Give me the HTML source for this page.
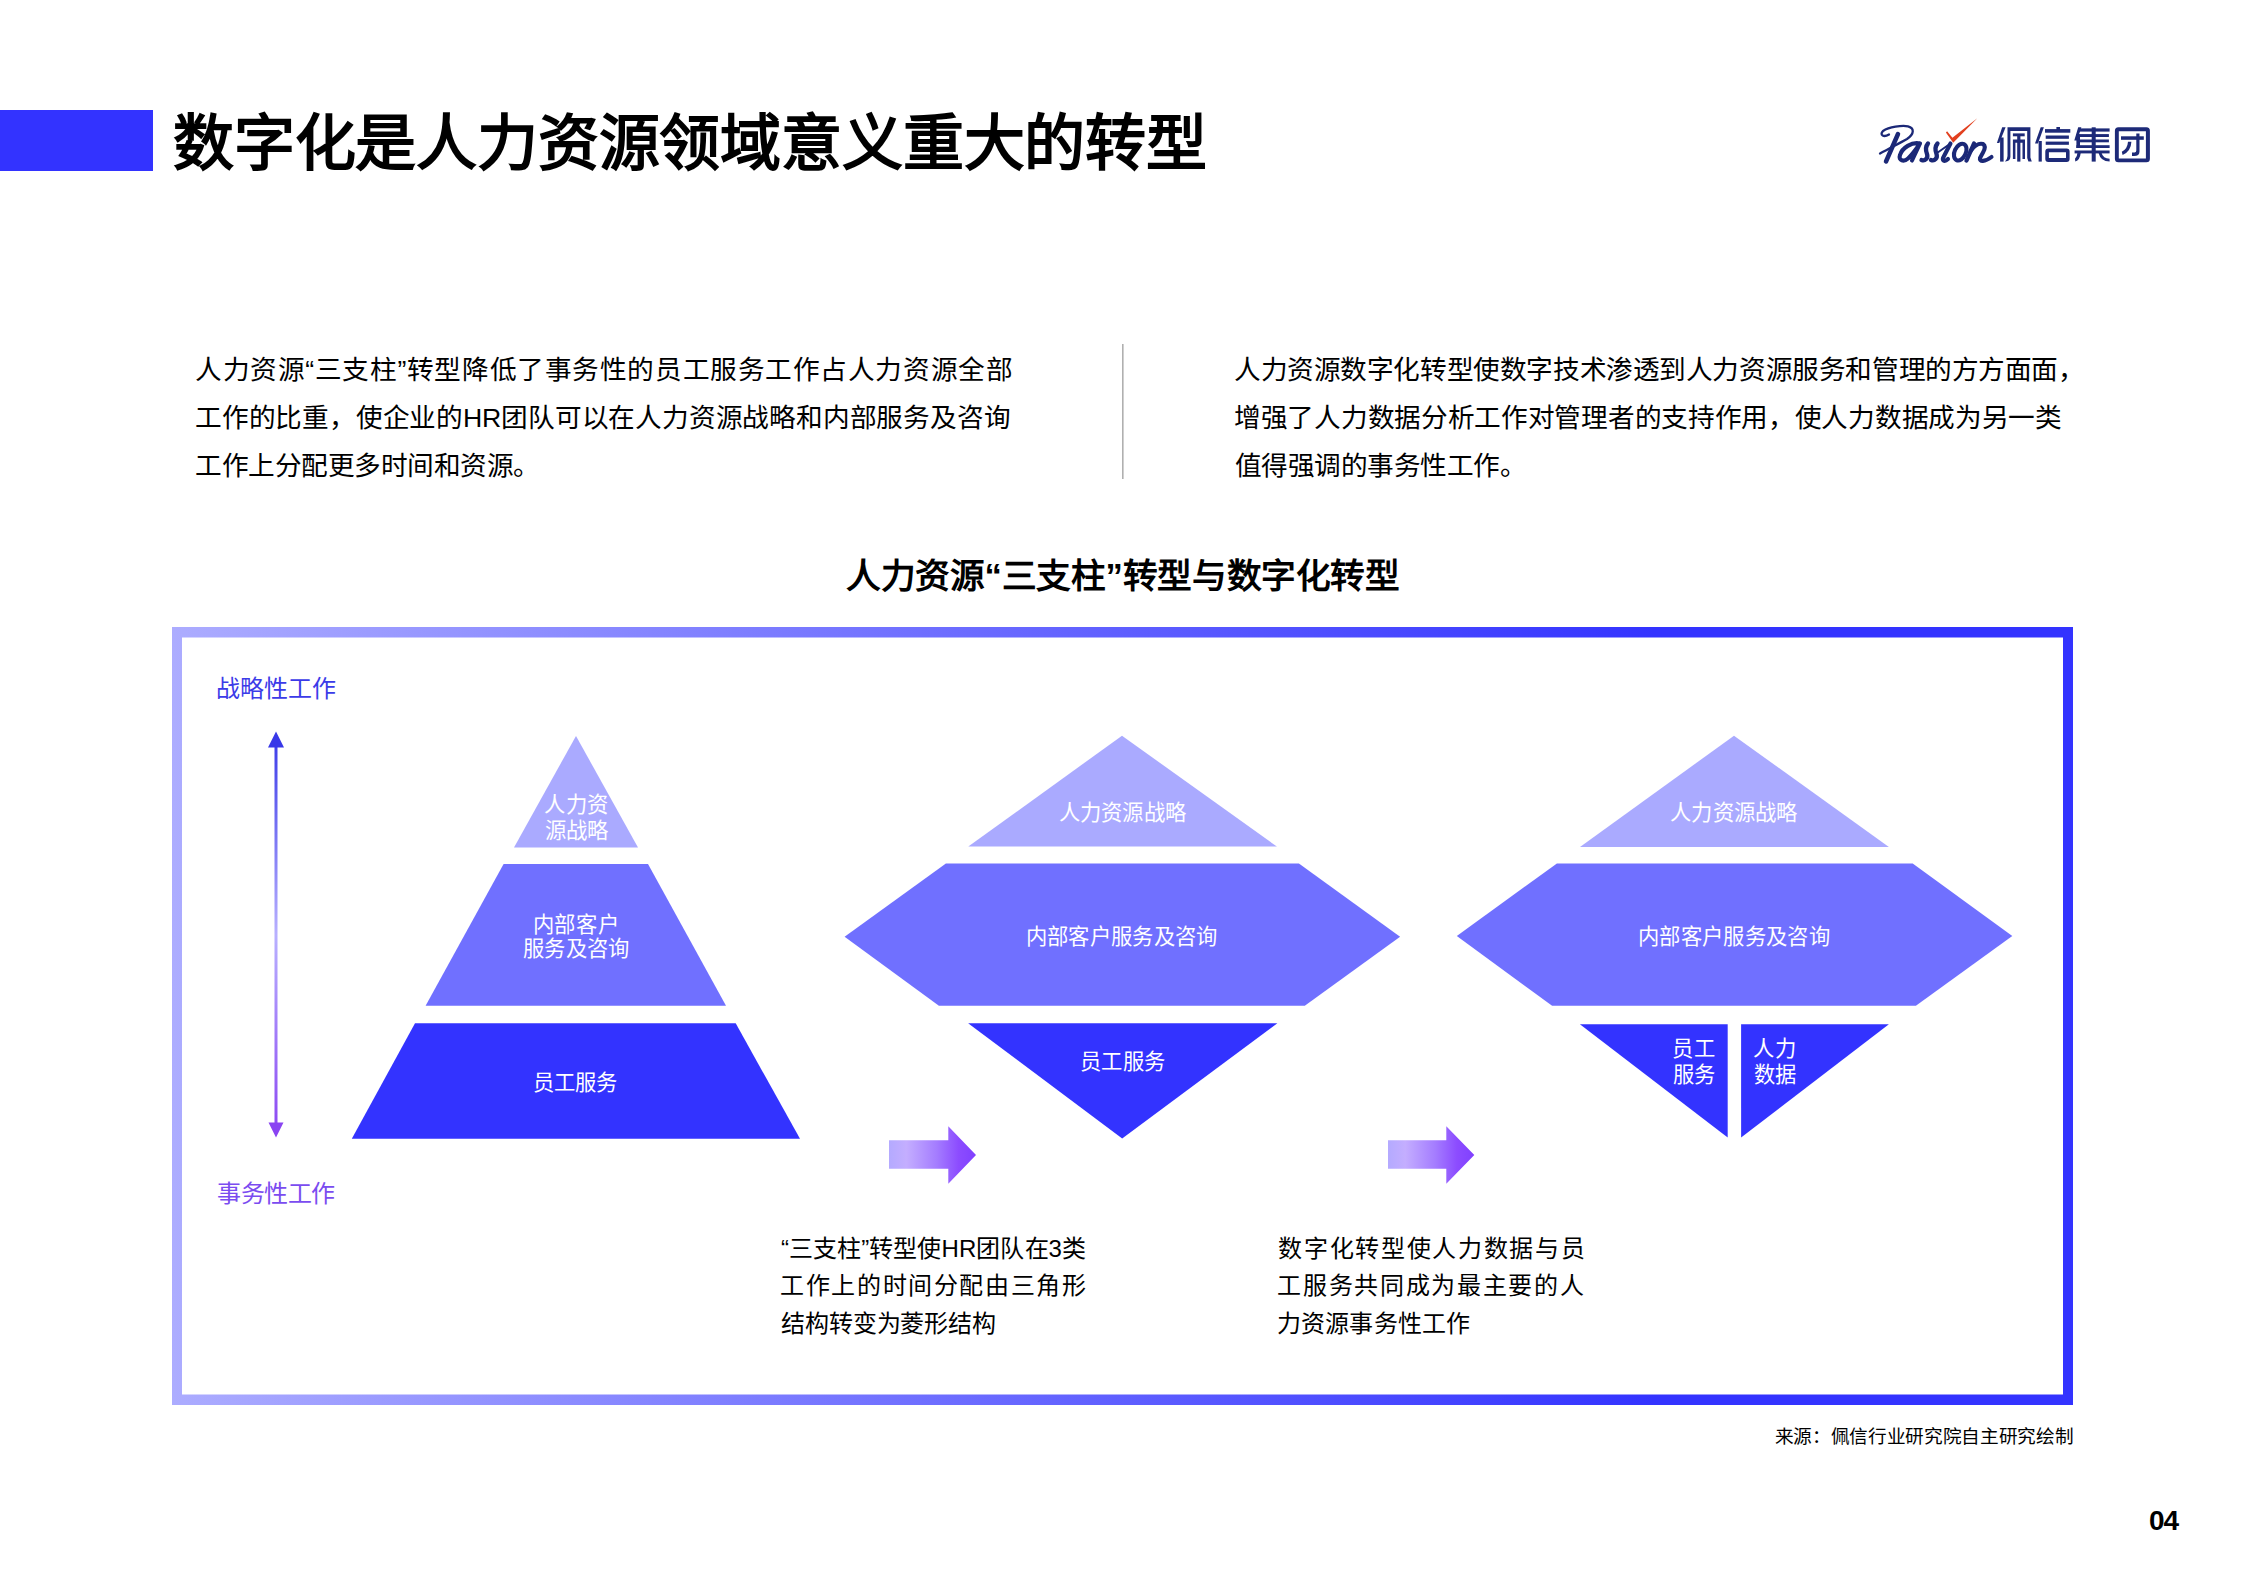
<!DOCTYPE html>
<html lang="zh-CN"><head><meta charset="utf-8"><title>数字化是人力资源领域意义重大的转型</title>
<style>
html,body{margin:0;padding:0;background:#fff;}
body{width:2244px;height:1587px;position:relative;overflow:hidden;font-family:"Liberation Sans",sans-serif;}
.t div, div.t > div{position:absolute;white-space:nowrap;}
</style></head><body>
<svg width="2244" height="1587" viewBox="0 0 2244 1587" style="position:absolute;left:0;top:0">
<defs>
 <linearGradient id="gFrame" x1="0" y1="0" x2="1" y2="0"><stop offset="0" stop-color="#ACACFF"/><stop offset="0.78" stop-color="#3333FF"/><stop offset="1" stop-color="#3333FF"/></linearGradient>
 <linearGradient id="gV" gradientUnits="userSpaceOnUse" x1="0" y1="732" x2="0" y2="1138"><stop offset="0" stop-color="#3838E8"/><stop offset="0.5" stop-color="#B8B0FF"/><stop offset="1" stop-color="#8A44F2"/></linearGradient>
 <linearGradient id="gA" x1="0" y1="0" x2="1" y2="0"><stop offset="0" stop-color="#B4AAFF"/><stop offset="0.2" stop-color="#C4AEFF"/><stop offset="0.55" stop-color="#A47CFF"/><stop offset="0.8" stop-color="#8C4CFF"/><stop offset="1" stop-color="#8040FF"/></linearGradient>
</defs>
<rect x="0" y="110" width="153" height="61" fill="#3333FF"/>
<rect x="1122" y="344" width="1.6" height="135" fill="#B0B0B0"/>
<path fill="url(#gFrame)" fill-rule="evenodd" d="M172,627 H2073 V1405 H172 Z M182,637.5 V1394.5 H2063 V637.5 Z"/>
<!-- vertical arrow -->
<rect x="274.5" y="745" width="3" height="380" fill="url(#gV)"/>
<polygon points="276,731.5 268,747.5 284,747.5" fill="#3838E8"/>
<polygon points="276,1137.5 268.5,1122.5 283.5,1122.5" fill="#8A44F2"/>
<!-- pyramid -->
<polygon points="576,736 514,847.4 638,847.4" fill="#AAAAFF"/>
<polygon points="503.6,864 648,864 726,1005.7 425.6,1005.7" fill="#7070FF"/>
<polygon points="415,1023.3 735.7,1023.3 800,1138.8 351.8,1138.8" fill="#3333FF"/>
<!-- diamond 2 -->
<polygon points="1122,735.7 968.3,846.6 1276.9,846.6" fill="#AAAAFF"/>
<polygon points="945.9,863.4 1298.9,863.4 1400.1,936.8 1304.8,1005.8 938.9,1005.8 844.6,936.8" fill="#7070FF"/>
<polygon points="968.1,1023.2 1277.4,1023.2 1122.2,1138.4" fill="#3333FF"/>
<!-- diamond 3 -->
<polygon points="1734,735.7 1580,847 1888.9,847" fill="#AAAAFF"/>
<polygon points="1556.9,863.4 1912.7,863.4 2012.3,935.9 1915.9,1005.8 1552.1,1005.8 1456.8,935.9" fill="#7070FF"/>
<polygon points="1579.9,1024.2 1727.7,1024.2 1727.7,1137.6" fill="#3333FF"/>
<polygon points="1741.1,1024.2 1888.9,1024.2 1741.1,1137.6" fill="#3333FF"/>
<!-- arrows -->
<g fill="url(#gA)">
<path d="M889,1140.2 H948.3 V1126.3 L976,1155 L948.3,1183.8 V1168.7 H889 Z"/>
<path d="M1388,1140.2 H1446.3 V1126.3 L1474.3,1155 L1446.3,1183.8 V1168.7 H1388 Z"/>
</g>
<!-- logo -->
<g fill="none" stroke="#1B2877" stroke-linecap="round" stroke-linejoin="round">
 <path d="M1898,134 L1886,161.5" stroke-width="4.5"/>
 <path d="M1889,134.5 C1884,137.5 1879,135.5 1883,131 C1889,127 1902,125 1908,126.3 C1914.5,128 1914.5,134 1907,139 C1900,143 1890,148 1880,153.5" stroke-width="2.3"/>
 <path d="M1920,143.5 C1912,141.5 1902,148 1900,155 C1898,161 1904,162 1908,158.5 C1912,155 1917,148 1920,143.5 L1912,160.5" stroke-width="4.1"/>
 <path d="M1921.5,160 C1925,161.5 1928.5,158 1927,154 C1925.5,150 1925,147 1928,143.5" stroke-width="4.3"/>
 <path d="M1931,160 C1934.5,161.5 1938,158 1936.5,154 C1935,150 1934.5,147 1937.5,143.5" stroke-width="4.3"/>
 <path d="M1937,153 L1950.5,143.5" stroke-width="2.0"/>
 <path d="M1950.5,143.5 L1943,158 C1942,161 1945,162 1948,159" stroke-width="4.1"/>
 <ellipse cx="1960.3" cy="152.2" rx="5.6" ry="8.8" transform="rotate(25 1960.5 152)" stroke-width="4.1"/>
 <path d="M1966.5,160.5 L1974,143.5" stroke-width="4.3"/>
 <path d="M1971,150.5 C1975,145 1979,143 1983,144 C1986,146 1985,149 1983,152.5 L1980,158 C1979,162 1985,162 1991.5,157" stroke-width="4.1"/>
</g>
<g fill="#1D2A78">
 <!-- 佩 -->
 <polygon points="2002.2,127.3 2005.6,127.3 1999.3,143 1996.9,143"/>
 <rect x="2000.1" y="137.5" width="3.5" height="24.1"/>
 <path d="M2007.5,127.3 H2030.4 V157.6 L2031.8,161.6 H2028.4 L2027.2,158 V130.9 H2010.4 V157 Q2010.2,161 2005.4,161.6 H2005 Q2007.5,159 2007.5,156 Z"/>
 <rect x="2012.9" y="133.4" width="11.8" height="2.9"/>
 <path d="M2012.9,139.5 H2025 V159 H2022.5 V142.7 H2015.4 V159 H2012.9 Z"/>
 <rect x="2017.2" y="136" width="3.2" height="25.6"/>
 <!-- 信 -->
 <polygon points="2040.7,127.3 2043.9,127.3 2037.9,143.4 2035,143.4"/>
 <rect x="2038.6" y="141" width="3.2" height="20.6"/>
 <rect x="2056.4" y="127" width="3.6" height="3"/>
 <rect x="2045" y="129.1" width="25.3" height="3.6"/>
 <rect x="2045.7" y="135.5" width="23.2" height="3.3"/>
 <rect x="2045.7" y="141.6" width="23.2" height="3.2"/>
 <path fill-rule="evenodd" d="M2048.3,148.4 H2066.6 Q2069.6,148.4 2069.6,151.4 V158.9 Q2069.6,161.9 2066.6,161.9 H2048.3 Q2045.3,161.9 2045.3,158.9 V151.4 Q2045.3,148.4 2048.3,148.4 Z M2048.9,152.3 V158 H2066 V152.3 Z"/>
 <!-- 集 -->
 <polygon points="2078.2,127.3 2081.4,127.3 2077.1,140.5 2074.3,140.5"/>
 <rect x="2076.4" y="134.5" width="3.6" height="13.5"/>
 <rect x="2078.2" y="128.4" width="31.4" height="3.2"/>
 <rect x="2077.1" y="134.1" width="31.8" height="2.9"/>
 <rect x="2077.1" y="139.5" width="31.8" height="2.8"/>
 <rect x="2076.4" y="145.2" width="33.2" height="2.8"/>
 <rect x="2091.7" y="127.3" width="4" height="34.3"/>
 <rect x="2074.6" y="150.5" width="35" height="2.9"/>
 <path d="M2080.7,153 Q2080,160 2075.3,161.6 L2075,158.8 Q2077.2,157 2077.4,153 Z"/>
 <path d="M2101.6,153 Q2103,158.5 2109.6,158.8 V161.6 Q2100.5,161.4 2098.6,153 Z"/>
 <!-- 团 -->
 <path fill-rule="evenodd" d="M2118.4,127.3 H2146.4 Q2149.9,127.3 2149.9,130.8 V158.8 Q2149.9,162.3 2146.4,162.3 H2118.4 Q2114.9,162.3 2114.9,158.8 V130.8 Q2114.9,127.3 2118.4,127.3 Z M2118.8,131.3 V158.4 H2145.9 V131.3 Z"/>
 <rect x="2121" y="136.3" width="22.8" height="3.5"/>
 <path d="M2136.3,133.4 H2139.5 V151.5 Q2139.5,156 2134,156 H2132 V152.6 H2134.5 Q2136.3,152.6 2136.3,150.5 Z"/>
 <path d="M2128,141.8 H2131.4 Q2131,151.5 2122.6,155 L2121.8,151.8 Q2127.5,149 2128,141.8 Z"/>
</g>
<polygon points="1945.9,132.4 1947.1,131.2 1952.4,137.8 1977.3,118.3 1953.2,142.8" fill="#E2401F"/>
</svg>
<div class="t">
<div style="left:173.0px;top:113.5px;font-size:61px;line-height:61px;font-weight:900;color:#000;letter-spacing:-0.188px;">数字化是人力资源领域意义重大的转型</div>
<div style="left:195.0px;top:356.5px;font-size:26.67px;line-height:26.67px;font-weight:400;color:#000;letter-spacing:0.567px;">人力资源“三支柱”转型降低了事务性的员工服务工作占人力资源全部</div>
<div style="left:195.0px;top:404.5px;font-size:26.67px;line-height:26.67px;font-weight:400;color:#000;letter-spacing:-0.2px;">工作的比重，使企业的HR团队可以在人力资源战略和内部服务及咨询</div>
<div style="left:195.0px;top:452.5px;font-size:26.67px;line-height:26.67px;font-weight:400;color:#000;letter-spacing:-0.5px;">工作上分配更多时间和资源。</div>
<div style="left:1234.0px;top:356.5px;font-size:26.67px;line-height:26.67px;font-weight:400;color:#000;letter-spacing:-0.419px;">人力资源数字化转型使数字技术渗透到人力资源服务和管理的方方面面，</div>
<div style="left:1234.0px;top:404.5px;font-size:26.67px;line-height:26.67px;font-weight:400;color:#000;letter-spacing:-0.3px;">增强了人力数据分析工作对管理者的支持作用，使人力数据成为另一类</div>
<div style="left:1235.0px;top:452.5px;font-size:26.67px;line-height:26.67px;font-weight:400;color:#000;letter-spacing:-0.55px;">值得强调的事务性工作。</div>
<div style="left:846.0px;top:558.5px;font-size:34.67px;line-height:34.67px;font-weight:900;color:#000;letter-spacing:-0.344px;">人力资源“三支柱”转型与数字化转型</div>
<div style="left:216.0px;top:676.5px;font-size:24px;line-height:24px;font-weight:400;color:#3B3BE8;letter-spacing:0.0px;">战略性工作</div>
<div style="left:217.0px;top:1181.5px;font-size:24px;line-height:24px;font-weight:400;color:#7B4CF0;letter-spacing:-0.5px;">事务性工作</div>
<div style="left:544.0px;top:794.75px;font-size:21.33px;line-height:21.33px;font-weight:300;color:#fff;letter-spacing:0.5px;">人力资</div>
<div style="left:545.0px;top:820.75px;font-size:21.33px;line-height:21.33px;font-weight:300;color:#fff;letter-spacing:0.0px;">源战略</div>
<div style="left:532.6px;top:914.5px;font-size:21.33px;line-height:21.33px;font-weight:300;color:#fff;letter-spacing:0.733px;">内部客户</div>
<div style="left:523.0px;top:939.0px;font-size:21.33px;line-height:21.33px;font-weight:300;color:#fff;letter-spacing:0.25px;">服务及咨询</div>
<div style="left:532.6px;top:1072.55px;font-size:21.33px;line-height:21.33px;font-weight:300;color:#fff;letter-spacing:0.067px;">员工服务</div>
<div style="left:1058.7px;top:803.0px;font-size:21.33px;line-height:21.33px;font-weight:300;color:#fff;letter-spacing:0.22px;">人力资源战略</div>
<div style="left:1025.7px;top:927.25px;font-size:21.33px;line-height:21.33px;font-weight:300;color:#fff;letter-spacing:0.312px;">内部客户服务及咨询</div>
<div style="left:1080.0px;top:1052.1px;font-size:21.33px;line-height:21.33px;font-weight:300;color:#fff;letter-spacing:0.367px;">员工服务</div>
<div style="left:1670.0px;top:803.0px;font-size:21.33px;line-height:21.33px;font-weight:300;color:#fff;letter-spacing:0.3px;">人力资源战略</div>
<div style="left:1638.2px;top:927.25px;font-size:21.33px;line-height:21.33px;font-weight:300;color:#fff;letter-spacing:0.312px;">内部客户服务及咨询</div>
<div style="left:1672.25px;top:1038.5px;font-size:21.33px;line-height:21.33px;font-weight:300;color:#fff;letter-spacing:0.3px;">员工</div>
<div style="left:1672.75px;top:1064.75px;font-size:21.33px;line-height:21.33px;font-weight:300;color:#fff;letter-spacing:0.3px;">服务</div>
<div style="left:1753.3px;top:1039.0px;font-size:21.33px;line-height:21.33px;font-weight:300;color:#fff;letter-spacing:0.3px;">人力</div>
<div style="left:1754.1px;top:1064.75px;font-size:21.33px;line-height:21.33px;font-weight:300;color:#fff;letter-spacing:0.3px;">数据</div>
<div style="left:781.0px;top:1237.15px;font-size:24px;line-height:24px;font-weight:400;color:#000;letter-spacing:0.071px;">“三支柱”转型使HR团队在3类</div>
<div style="left:780.0px;top:1274.3px;font-size:24px;line-height:24px;font-weight:400;color:#000;letter-spacing:1.636px;">工作上的时间分配由三角形</div>
<div style="left:781.0px;top:1311.8px;font-size:24px;line-height:24px;font-weight:400;color:#000;letter-spacing:-0.125px;">结构转变为菱形结构</div>
<div style="left:1278.2px;top:1236.8px;font-size:24px;line-height:24px;font-weight:400;color:#000;letter-spacing:1.691px;">数字化转型使人力数据与员</div>
<div style="left:1277.2px;top:1273.95px;font-size:24px;line-height:24px;font-weight:400;color:#000;letter-spacing:1.691px;">工服务共同成为最主要的人</div>
<div style="left:1277.2px;top:1311.8px;font-size:24px;line-height:24px;font-weight:400;color:#000;letter-spacing:0.086px;">力资源事务性工作</div>
<div style="left:1774.7px;top:1427.6px;font-size:18.67px;line-height:18.67px;font-weight:400;color:#000;letter-spacing:-0.34px;">来源：佩信行业研究院自主研究绘制</div>
<div style="left:2149.0px;top:1507.0px;font-size:28px;line-height:28px;font-weight:700;color:#000;letter-spacing:-1.0px;">04</div>
</div>
</body></html>
